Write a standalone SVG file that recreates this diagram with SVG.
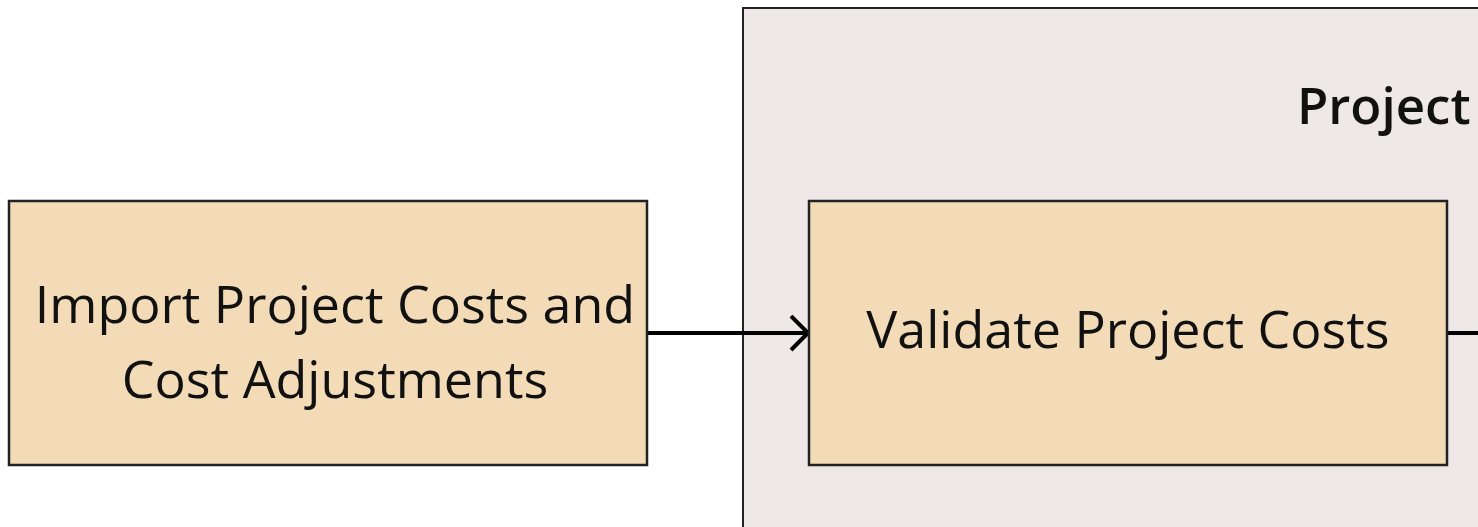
<svg xmlns="http://www.w3.org/2000/svg" width="1478" height="527" viewBox="0 0 1478 527">
<defs>
<style>
.box{fill:#F3DBB7;stroke:#222;stroke-width:2.5}
.lbl{font-family:"Open Sans","Noto Sans",sans-serif;font-size:52px;fill:#111}
.title{font-family:"Open Sans","Noto Sans",sans-serif;font-size:51px;font-weight:600;fill:#111}
.conn{stroke:#000;stroke-width:4;fill:none}
</style>
<marker id="arr" markerWidth="26" markerHeight="40" refX="19" refY="18" orient="auto" markerUnits="userSpaceOnUse">
<path d="M2,1 L19,18 L2,35" fill="none" stroke="#000" stroke-width="4"/>
</marker>
</defs>
<rect width="1478" height="527" fill="#fff"/>
<g id="container">
<rect x="743" y="8" width="760" height="540" fill="#EEE9E8" stroke="#222" stroke-width="2"/>
<text class="title" x="1297" y="124">Project</text>
</g>
<g id="connectors">
<line class="conn" x1="648" y1="333" x2="808" y2="333" marker-end="url(#arr)"/>
<line class="conn" x1="1448" y1="333" x2="1480" y2="333"/>
</g>
<g id="import">
<rect class="box" x="9" y="201" width="638" height="264"/>
<text class="lbl" text-anchor="middle" x="335" y="323">Import Project Costs and</text>
<text class="lbl" text-anchor="middle" x="335" y="398">Cost Adjustments</text>
</g>
<g id="validate">
<rect class="box" x="809" y="201" width="638" height="264"/>
<text class="lbl" text-anchor="middle" x="1128" y="348">Validate Project Costs</text>
</g>
</svg>
